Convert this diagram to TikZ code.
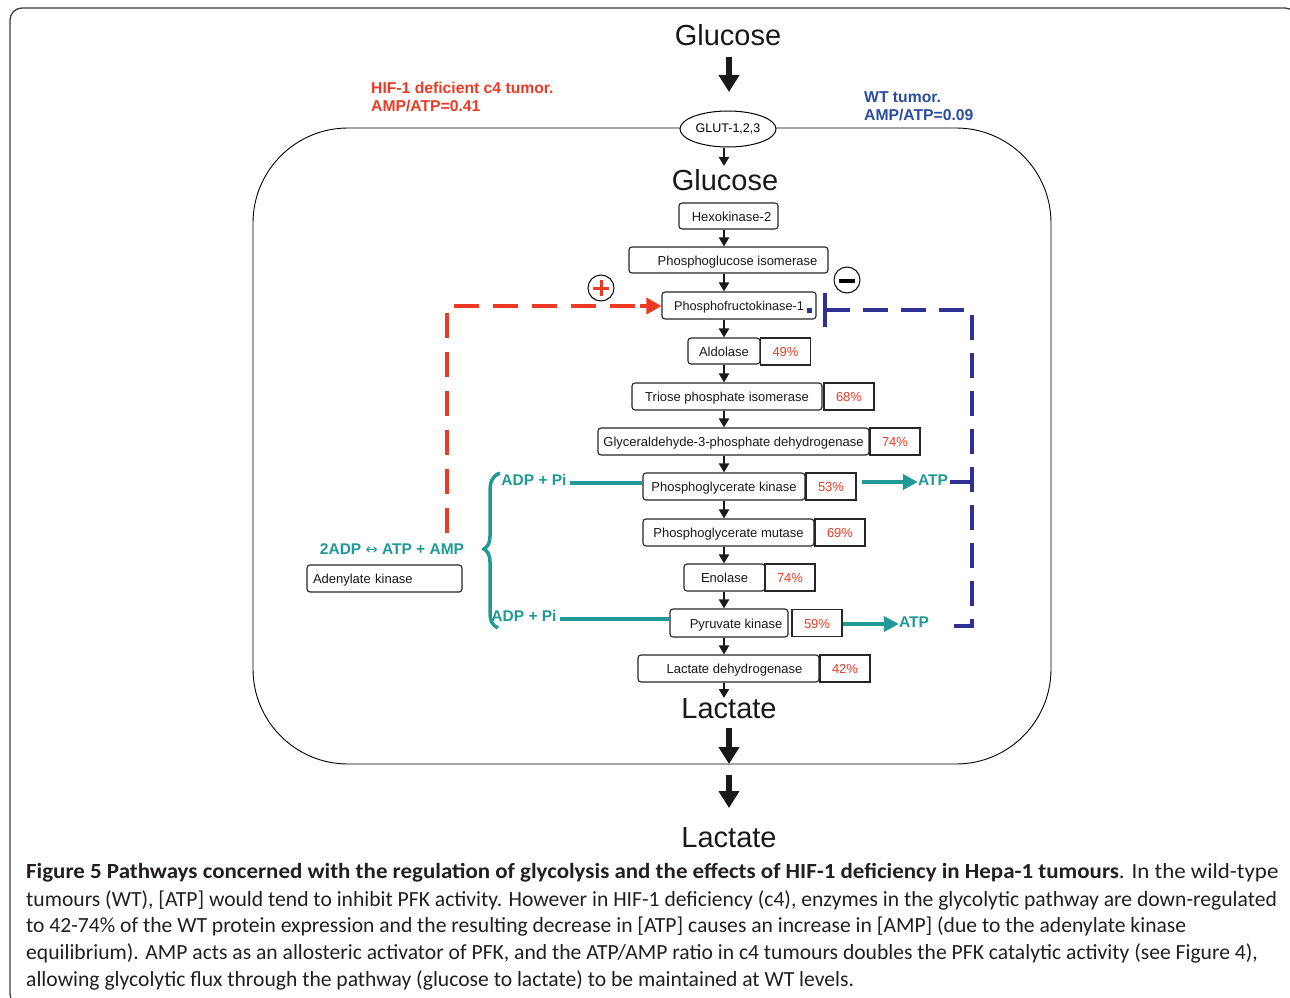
\documentclass[tikz,border=0pt]{standalone}
\usepackage{graphicx}
\usepackage{fontspec}
\setmainfont{Liberation Sans}
\newfontfamily\capfont{Carlito}
\newfontfamily\dejavu{DejaVu Sans}
\usetikzlibrary{arrows.meta,shapes.geometric}
\definecolor{myred}{HTML}{EE3A24}
\definecolor{myblue}{HTML}{2E3192}
\definecolor{txtblue}{HTML}{2B4DA0}
\definecolor{myteal}{HTML}{1F9A96}
\definecolor{capgray}{HTML}{231F20}
\tikzset{
  enz/.style={draw=black!85, line width=1.1pt, rounded corners=3pt, minimum height=26pt, inner sep=0pt, text height=10.5pt, text depth=0pt, font=\fontsize{13}{15}\selectfont, text=black!90},
  pct/.style={draw=black!85, line width=1.1pt, minimum height=27pt, minimum width=50pt, inner sep=0pt, text height=10.5pt, text depth=0pt, font=\fontsize{13}{15}\selectfont, text=myred},
  arr/.style={line width=2.2pt, black!90, -{Triangle[length=9pt,width=10pt]}},
  bigarr/.style={line width=6pt, black!90, -{Triangle[length=17pt,width=20pt]}},
  bigtxt/.style={font=\fontsize{29}{32}\selectfont, inner sep=0pt, text=black!90},
  tealtxt/.style={font=\fontsize{15.5}{18}\selectfont\bfseries, text=myteal, inner sep=0pt},
  tealline/.style={line width=4pt, myteal},
  tealarr/.style={line width=4pt, myteal, -{Triangle[length=15pt,width=15pt]}},
  reddash/.style={line width=4pt, myred, dash pattern=on 25pt off 14pt},
  bluedash/.style={line width=4pt, myblue, dash pattern=on 25pt off 13pt},
  capline/.style={anchor=west, inner sep=0pt, font=\capfont\fontsize{21.6}{24}\selectfont, text=capgray}
}
\begin{document}
\begin{tikzpicture}[x=1pt,y=-1pt]
\useasboundingbox (0,0) rectangle (1290,998);
\fill[white] (0,0) rectangle (1290,998);
% outer frame
\begin{scope}
\clip (0,0) rectangle (1290,998);
\draw[black!75, line width=1.3pt, rounded corners=12pt] (10,8) rectangle (1297,1006);
\end{scope}
% membrane
\draw[black, line width=0.9pt, rounded corners=95pt] (253,128) rectangle (1051,764);
\node[draw=black, line width=1pt, fill=white, ellipse, minimum width=96pt, minimum height=36pt, inner sep=0pt, font=\fontsize{12.5}{14}\selectfont] (glut) at (728,129) {GLUT-1,2,3};

% top labels
\node[bigtxt] (glc0) at (728,35) {Glucose};
\node[bigtxt] (glc1) at (725,180) {Glucose};
\node[bigtxt] (lac1) at (729,709) {Lactate};
\node[bigtxt] (lac2) at (729,838) {Lactate};

\node[anchor=west, align=left, inner sep=0pt, text=myred, font=\fontsize{15.7}{18}\selectfont\bfseries] (c4lbl) at (371,97) {HIF-1 deficient c4 tumor.\\AMP/ATP=0.41};
\node[anchor=west, align=left, inner sep=0pt, text=txtblue, font=\fontsize{15.7}{18}\selectfont\bfseries] (wtlbl) at (864,106) {WT tumor.\\AMP/ATP=0.09};

% enzymes
\node[enz, minimum width=99pt] (hk) at (728.5,216) {\hspace{6pt}Hexokinase-2};
\node[enz, minimum width=199pt] (pgi) at (728.5,260) {\hspace{18pt}Phosphoglucose isomerase};
\node[enz, minimum width=154pt, minimum height=27pt, font=\fontsize{12.7}{15}\selectfont] (pfk) at (739,305.5) {Phosphofructokinase-1};
\node[enz, minimum width=72pt] (ald) at (724,351) {Aldolase};
\node[pct] (p1) at (785.5,351.5) {49\%};
\node[enz, minimum width=190pt, minimum height=27pt] (tpi) at (727,396.5) {Triose phosphate isomerase};
\node[pct] (p2) at (849,396.5) {68\%};
\node[enz, minimum width=271pt, minimum height=27pt] (gapdh) at (733.5,441.5) {Glyceraldehyde-3-phosphate dehydrogenase};
\node[pct] (p3) at (895,441.5) {74\%};
\node[enz, minimum width=162pt, minimum height=27pt] (pgk) at (724,486.5) {Phosphoglycerate kinase};
\node[pct] (p4) at (831,486.5) {53\%};
\node[enz, minimum width=171pt, minimum height=27pt] (pgm) at (728.5,532.5) {Phosphoglycerate mutase};
\node[pct] (p5) at (840,532.5) {69\%};
\node[enz, minimum width=81pt, minimum height=27pt] (eno) at (724.5,577.5) {Enolase\hspace{10pt}};
\node[pct] (p6) at (790,577.5) {74\%};
\node[enz, minimum width=118pt, minimum height=28pt] (pk) at (729,623) {\hspace{14pt}Pyruvate kinase};
\node[pct] (p7) at (817,623) {59\%};
\node[enz, minimum width=181pt, minimum height=27pt] (ldh) at (728.5,668.5) {\hspace{12pt}Lactate dehydrogenase};
\node[pct] (p8) at (845,668.5) {42\%};
\node[enz, minimum width=155pt, minimum height=27pt, text width=143pt, align=left] (ak) at (384.5,578.5) {Adenylate kinase};

% main flow arrows
\coordinate (ax) at (724,0);
\coordinate (b0) at (729,57);
\coordinate (b1) at (729,92);
\draw[bigarr] (b0) -- (b1);
\draw[arr] (glut.south -| ax) -- (724,166);
\draw[arr] (hk.south -| ax) -- (pgi.north -| ax);
\draw[arr] (pgi.south -| ax) -- (pfk.north -| ax);
\draw[arr] (pfk.south -| ax) -- (ald.north -| ax);
\draw[arr] (ald.south -| ax) -- (tpi.north -| ax);
\draw[arr] (tpi.south -| ax) -- (gapdh.north -| ax);
\draw[arr] (gapdh.south -| ax) -- (pgk.north -| ax);
\draw[arr] (pgk.south -| ax) -- (pgm.north -| ax);
\draw[arr] (pgm.south -| ax) -- (eno.north -| ax);
\draw[arr] (eno.south -| ax) -- (pk.north -| ax);
\draw[arr] (pk.south -| ax) -- (ldh.north -| ax);
\draw[arr] (ldh.south -| ax) -- (724,698);
\draw[bigarr] (729,728) -- (729,764);
\draw[bigarr] (729,775) -- (729,808);

% teal ATP parts
\node[tealtxt] (adp1) at (534,480) {ADP + Pi};
\node[tealtxt] (adp2) at (524,616) {ADP + Pi};
\node[tealtxt] (atp1) at (933,480) {ATP};
\node[tealtxt] (atp2) at (914,622) {ATP};
\node[tealtxt] (akeq) at (392,549) {2ADP {\dejavu\mdseries\fontsize{14.5}{16}\selectfont ↔} ATP + AMP};
\draw[tealline] (adp1.east) ++(3,3) -- (pgk.west |- 0,483);
\draw[tealline] (adp2.east) ++(3,3) -- (pk.west |- 0,619);
\coordinate (t1s) at (862,482);
\coordinate (t2s) at (843,624);
\draw[tealarr] (t1s) -- (atp1.west |- t1s);
\draw[tealarr] (t2s) -- (atp2.west |- t2s);
% brace
\draw[myteal, line width=3.5pt] (500,473) .. controls (492,476) and (490,482) .. (490,492)
  -- (490,536) .. controls (490,544) and (487,547) .. (484,549)
  .. controls (487,551) and (490,554) .. (490,562)
  -- (490,612) .. controls (490,621) and (492,625) .. (498,628);

% red activation
\coordinate (rs) at (447,533);
\draw[reddash] (rs) -- (447,306) -- (645,306);
\draw[myred, line width=4pt, -{Triangle[length=15pt,width=16pt]}] (640,306) -- (pfk.west |- 0,306);
\node[draw=black, line width=1pt, circle, minimum size=26pt, inner sep=0pt] (plus) at (601,288) {};
\draw[myred, line width=3pt] (593,288) -- (609,288) (601,280) -- (601,296);

% blue inhibition
\coordinate (tbar) at (825,310);
\draw[bluedash] (tbar) -- (972,310) -- (972,626) -- (943,626);
\draw[bluedash, dash pattern=on 20pt off 4pt] (atp1.east) ++(2,2) -- (972,482);
\draw[myblue, line width=4pt] (825,293) -- (825,327);
\fill[myblue] (806.5,308) rectangle (811.5,313);
\node[draw=black, line width=1pt, circle, minimum size=26pt, inner sep=0pt] (minus) at (847,280) {};
\draw[black, line width=3.5pt] (839,281) -- (855,281);

% caption
\node[capline] (cap1) at (26,873) {\scalebox{1.062}[1]{{\bfseries Figure 5 Pathways concerned with the regulation of glycolysis and the effects of HIF-1 deficiency in Hepa-1 tumours}. In the wild-type}};
\node[capline] (cap2) at (26,900) {tumours (WT), [ATP] would tend to inhibit PFK activity. However in HIF-1 deficiency (c4), enzymes in the glycolytic pathway are down-regulated};
\node[capline] (cap3) at (26,926) {to 42-74\% of the WT protein expression and the resulting decrease in [ATP] causes an increase in [AMP] (due to the adenylate kinase};
\node[capline] (cap4) at (26,953) {equilibrium). AMP acts as an allosteric activator of PFK, and the ATP/AMP ratio in c4 tumours doubles the PFK catalytic activity (see Figure 4),};
\node[capline] (cap5) at (26,980) {allowing glycolytic flux through the pathway (glucose to lactate) to be maintained at WT levels.};
\end{tikzpicture}
\end{document}
